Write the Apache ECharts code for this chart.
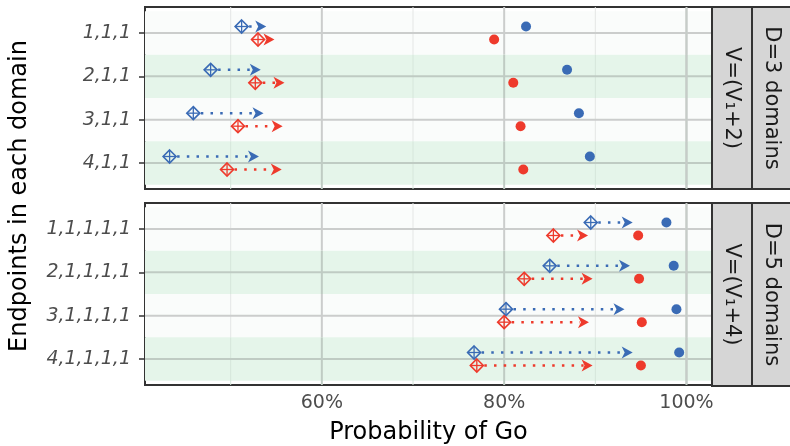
<!DOCTYPE html>
<html><head><meta charset="utf-8">
<script src="https://cdn.jsdelivr.net/npm/echarts@6.0.0/dist/echarts.min.js"></script>
<style>html,body{margin:0;padding:0;background:#fff}#c{width:790px;height:446px}</style>
</head><body><div id="c"></div>
<script>
// ---- data ----
const categoriesD3 = ['1,1,1','2,1,1','3,1,1','4,1,1'];
const categoriesD5 = ['1,1,1,1,1','2,1,1,1,1','3,1,1,1,1','4,1,1,1,1'];
const xTickValues = [60, 80, 100];
const xMajorGrid = [60, 80, 100];
const xMinorGrid = [50, 70, 90];
// D=3 domains
const blueStartD3 = [51.2, 47.8, 45.9, 43.3];
const blueEndD3   = [53.9, 53.3, 53.6, 53.1];
const blueDotD3   = [82.4, 86.9, 88.2, 89.4];
const redStartD3  = [53.0, 52.7, 50.8, 49.6];
const redEndD3    = [54.8, 55.9, 55.7, 55.6];
const redDotD3    = [78.9, 81.0, 81.8, 82.1];
// D=5 domains
const blueStartD5 = [89.5, 85.0, 80.2, 76.7];
const blueEndD5   = [94.1, 93.8, 93.2, 94.1];
const blueDotD5   = [97.8, 98.6, 98.9, 99.2];
const redStartD5  = [85.4, 82.2, 80.0, 77.0];
const redEndD5    = [89.2, 89.7, 89.3, 89.7];
const redDotD5    = [94.7, 94.8, 95.1, 95.0];
const stripInner = ['V=(V\u2081+2)', 'V=(V\u2081+4)'];
const stripOuter = ['D=3 domains', 'D=5 domains'];

// ---- style ----
const BLUE = '#3a6bb5', RED = '#ee3a2c';
const FONT = 'DejaVu Sans';
const X_MIN = 40.6, X_MAX = 102.8;
const DODGE = 0.15;
const panels = [
  {top: 7, height: 182},
  {top: 203, height: 183}
];
const GRID_LEFT = 145, GRID_RIGHT = 78;

function pairRenderer(color, offset) {
  return function (params, api) {
    const s = api.value(0), e = api.value(1), idx = api.value(2);
    const p0 = api.coord([s, idx + offset]);
    const p1 = api.coord([e, idx + offset]);
    const y = p0[1], r = 6.5;
    return {type: 'group', children: [
      {type: 'line', shape: {x1: p0[0] + r + 1, y1: y, x2: p1[0] - 9, y2: y},
       style: {stroke: color, lineWidth: 2.5, lineDash: [2.5, 7.2], lineCap: 'butt'}},
      {type: 'polygon', shape: {points: [[p1[0], y], [p1[0] - 11, y - 6], [p1[0] - 8, y], [p1[0] - 11, y + 6]]},
       style: {fill: color}},
      {type: 'polygon', shape: {points: [[p0[0], y - r], [p0[0] + r, y], [p0[0], y + r], [p0[0] - r, y]]},
       style: {fill: 'none', stroke: color, lineWidth: 1.6}},
      {type: 'line', shape: {x1: p0[0] - r, y1: y, x2: p0[0] + r, y2: y}, style: {stroke: color, lineWidth: 1.3}},
      {type: 'line', shape: {x1: p0[0], y1: y - r, x2: p0[0], y2: y + r}, style: {stroke: color, lineWidth: 1.3}}
    ]};
  };
}

// one item per category row: band + the grid lines crossing it
function bandRenderer(nRows) {
  return function (params, api) {
    const idx = api.value(1);
    const cs = params.coordSys;
    const green = idx % 2 === 1;
    const a = api.coord([X_MIN, idx - 0.5])[1];
    const b = api.coord([X_MIN, idx + 0.5])[1];
    const yTop = Math.min(a, b), yBot = Math.max(a, b);
    const y0 = idx === 0 ? cs.y : yTop;
    const y1 = idx === nRows - 1 ? cs.y + cs.height : yBot;
    const majC = green ? '#bfcbc3' : '#cbcdcc';
    const minC = green ? '#d6e6db' : '#e4e6e5';
    const children = [
      {type: 'rect', shape: {x: cs.x, y: yTop, width: cs.width, height: yBot - yTop},
       style: {fill: green ? '#e5f5ea' : '#fafcfb'}}
    ];
    xMinorGrid.forEach(v => {
      const x = api.coord([v, idx])[0];
      children.push({type: 'line', shape: {x1: x, y1: y0, x2: x, y2: y1}, style: {stroke: minC, lineWidth: 1}});
    });
    xMajorGrid.forEach(v => {
      const x = api.coord([v, idx])[0];
      children.push({type: 'line', shape: {x1: x, y1: y0, x2: x, y2: y1}, style: {stroke: majC, lineWidth: 2}});
    });
    const yc = api.coord([X_MIN, idx])[1];
    children.push({type: 'line', shape: {x1: cs.x, y1: yc, x2: cs.x + cs.width, y2: yc}, style: {stroke: majC, lineWidth: 2}});
    return {type: 'group', children: children};
  };
}

const grids = [], xAxes = [], yAxes = [], series = [], graphics = [];
const panelData = [
  {cats: categoriesD3, bs: blueStartD3, be: blueEndD3, bd: blueDotD3, rs: redStartD3, re: redEndD3, rd: redDotD3},
  {cats: categoriesD5, bs: blueStartD5, be: blueEndD5, bd: blueDotD5, rs: redStartD5, re: redEndD5, rd: redDotD5}
];
panelData.forEach((pd, k) => {
  grids.push({left: GRID_LEFT, right: GRID_RIGHT, top: panels[k].top, height: panels[k].height,
    show: true, backgroundColor: '#ffffff', borderColor: '#333333', borderWidth: 2, containLabel: false});
  const isBottom = k === panelData.length - 1;
  xAxes.push({type: 'value', gridIndex: k, min: X_MIN, max: X_MAX,
    axisLine: {show: false}, splitLine: {show: false},
    axisTick: {show: isBottom, customValues: xTickValues, length: 5, lineStyle: {color: '#333', width: 1.5}},
    axisLabel: {show: isBottom, customValues: xTickValues, formatter: v => v + '%', color: '#4d4d4d',
      fontFamily: FONT, fontSize: 19, margin: 9},
    name: isBottom ? 'Probability of Go' : '', nameLocation: 'middle', nameGap: 36,
    nameTextStyle: {color: '#000', fontFamily: FONT, fontSize: 24}});
  const cats = pd.cats;
  yAxes.push({type: 'value', gridIndex: k, min: -0.6, max: cats.length - 0.4, inverse: true,
    axisLine: {show: false}, splitLine: {show: false},
    axisTick: {show: true, customValues: cats.map((c, i) => i), length: 6, lineStyle: {color: '#333', width: 1.5}},
    axisLabel: {customValues: cats.map((c, i) => i), formatter: v => cats[Math.round(v)], color: '#4d4d4d',
      fontFamily: FONT, fontSize: 19, fontStyle: 'italic', margin: 14}});
  const idxs = cats.map((c, i) => [X_MIN, i]);
  series.push({type: 'custom', xAxisIndex: k, yAxisIndex: k, silent: true, renderItem: bandRenderer(cats.length),
    data: idxs, z: 2});
  series.push({type: 'custom', xAxisIndex: k, yAxisIndex: k, renderItem: pairRenderer(BLUE, -DODGE),
    data: cats.map((c, i) => [pd.bs[i], pd.be[i], i]), z: 3});
  series.push({type: 'custom', xAxisIndex: k, yAxisIndex: k, renderItem: pairRenderer(RED, DODGE),
    data: cats.map((c, i) => [pd.rs[i], pd.re[i], i]), z: 3});
  series.push({type: 'scatter', xAxisIndex: k, yAxisIndex: k, symbol: 'circle', symbolSize: 10,
    itemStyle: {color: BLUE, opacity: 1}, data: cats.map((c, i) => [pd.bd[i], i - DODGE]), z: 4});
  series.push({type: 'scatter', xAxisIndex: k, yAxisIndex: k, symbol: 'circle', symbolSize: 10,
    itemStyle: {color: RED, opacity: 1}, data: cats.map((c, i) => [pd.rd[i], i + DODGE]), z: 4});

  // facet strips
  const top = panels[k].top, h = panels[k].height;
  [[712, 40, stripInner[k]], [752, 40, stripOuter[k]]].forEach(([x, w, txt]) => {
    graphics.push({type: 'rect', shape: {x: x, y: top, width: w, height: h},
      style: {fill: '#d6d6d6', stroke: '#333333', lineWidth: 2}, z: 10});
    graphics.push({type: 'text', x: x + 19, y: top + h / 2, rotation: -Math.PI / 2,
      style: {text: txt, fill: '#1a1a1a', font: '21px "DejaVu Sans"', align: 'center', verticalAlign: 'middle'}, z: 11});
  });
});
graphics.push({type: 'text', x: 20, y: 196, rotation: Math.PI / 2,
  style: {text: 'Endpoints in each domain', fill: '#000', font: '24px "DejaVu Sans"', align: 'center', verticalAlign: 'middle'}, z: 11});

const chart = echarts.init(document.getElementById('c'), null, {renderer: 'canvas'});
chart.setOption({
  animation: false,
  backgroundColor: '#ffffff',
  grid: grids, xAxis: xAxes, yAxis: yAxes, series: series, graphic: graphics
});

// right-most major gridline, placed through the axis scales, kept on top
const edgeLines = [];
panelData.forEach((pd, k) => {
  const xv = xMajorGrid[xMajorGrid.length - 1];
  const px = chart.convertToPixel({xAxisIndex: k}, xv);
  const pyA = chart.convertToPixel({yAxisIndex: k}, -0.6);
  const pyB = chart.convertToPixel({yAxisIndex: k}, pd.cats.length - 0.4);
  edgeLines.push({type: 'line', silent: true, z: 50,
    shape: {x1: px, y1: Math.min(pyA, pyB) + 1, x2: px, y2: Math.max(pyA, pyB) - 1},
    style: {stroke: '#c6ccc8', lineWidth: 2}});
});
chart.setOption({graphic: graphics.concat(edgeLines)});
</script></body></html>
